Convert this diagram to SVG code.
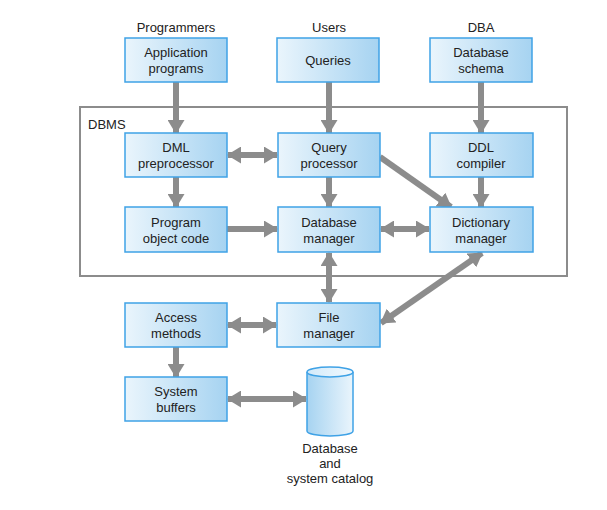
<svg xmlns="http://www.w3.org/2000/svg" width="607" height="510" viewBox="0 0 607 510">
<defs>
<linearGradient id="boxg" x1="0" y1="0" x2="1" y2="0">
<stop offset="0" stop-color="#eaf5fc"/>
<stop offset="1" stop-color="#a6d3f1"/>
</linearGradient>
<linearGradient id="cylg" x1="0" y1="0" x2="1" y2="0">
<stop offset="0" stop-color="#a6d3f1"/>
<stop offset="1" stop-color="#eaf5fc"/>
</linearGradient>
<linearGradient id="topg" x1="0" y1="0" x2="1" y2="0">
<stop offset="0" stop-color="#d2eafa"/>
<stop offset="1" stop-color="#f2f9fe"/>
</linearGradient>
<marker id="ah" markerUnits="userSpaceOnUse" markerWidth="14" markerHeight="17" refX="13" refY="8.5" orient="auto-start-reverse">
<path d="M0,0 L14,8.5 L0,17 Z" fill="#8c8c8c"/>
</marker>
<style>
.box{fill:url(#boxg);stroke:#3fa2e6;stroke-width:1.5}
.t{font-family:"Liberation Sans",Arial,sans-serif;font-size:13px;fill:#222;text-anchor:middle}
.c{stroke:#8c8c8c;stroke-width:6;fill:none}
</style>
</defs>
<rect width="607" height="510" fill="#fff"/>
<rect x="80" y="107" width="487" height="169" fill="none" stroke="#8c8c8c" stroke-width="2"/>
<text x="88" y="129" class="t" style="text-anchor:start">DBMS</text>
<text x="176" y="32" class="t">Programmers</text>
<text x="329" y="32" class="t">Users</text>
<text x="481" y="32" class="t">DBA</text>

<g id="connectors">
<line class="c" x1="176" y1="82" x2="176" y2="133" marker-end="url(#ah)"/>
<line class="c" x1="329" y1="82" x2="329" y2="133" marker-end="url(#ah)"/>
<line class="c" x1="481" y1="82" x2="481" y2="133" marker-end="url(#ah)"/>
<line class="c" x1="228" y1="155" x2="277" y2="155" marker-start="url(#ah)" marker-end="url(#ah)"/>
<line class="c" x1="176" y1="177" x2="176" y2="207" marker-end="url(#ah)"/>
<line class="c" x1="329" y1="177" x2="329" y2="207" marker-end="url(#ah)"/>
<line class="c" x1="481" y1="177" x2="481" y2="207" marker-end="url(#ah)"/>
<line class="c" x1="380" y1="157" x2="451" y2="207" marker-end="url(#ah)"/>
<line class="c" x1="227" y1="229" x2="277" y2="229" marker-end="url(#ah)"/>
<line class="c" x1="381" y1="229" x2="429" y2="229" marker-start="url(#ah)" marker-end="url(#ah)"/>
<line class="c" x1="329" y1="253" x2="329" y2="302" marker-start="url(#ah)" marker-end="url(#ah)"/>
<line class="c" x1="228" y1="325" x2="276" y2="325" marker-start="url(#ah)" marker-end="url(#ah)"/>
<line class="c" x1="381" y1="323" x2="482" y2="253" marker-start="url(#ah)" marker-end="url(#ah)"/>
<line class="c" x1="176" y1="347" x2="176" y2="377" marker-end="url(#ah)"/>
<line class="c" x1="228" y1="399" x2="306" y2="399" marker-start="url(#ah)" marker-end="url(#ah)"/>
</g>

<g id="app">
<rect class="box" x="125" y="38" width="102" height="44"/>
<text class="t" x="176" y="57">Application</text>
<text class="t" x="176" y="73">programs</text>
</g>
<g id="queries">
<rect class="box" x="277" y="38" width="102" height="44"/>
<text class="t" x="328" y="65">Queries</text>
</g>
<g id="schema">
<rect class="box" x="430" y="38" width="102" height="44"/>
<text class="t" x="481" y="57">Database</text>
<text class="t" x="481" y="73">schema</text>
</g>
<g id="dml">
<rect class="box" x="125" y="133" width="102" height="44"/>
<text class="t" x="176" y="152">DML</text>
<text class="t" x="176" y="168">preprocessor</text>
</g>
<g id="qp">
<rect class="box" x="278" y="133" width="102" height="44"/>
<text class="t" x="329" y="152">Query</text>
<text class="t" x="329" y="168">processor</text>
</g>
<g id="ddl">
<rect class="box" x="430" y="133" width="103" height="44"/>
<text class="t" x="481" y="152">DDL</text>
<text class="t" x="481" y="168">compiler</text>
</g>
<g id="poc">
<rect class="box" x="125" y="207" width="102" height="45"/>
<text class="t" x="176" y="227">Program</text>
<text class="t" x="176" y="243">object code</text>
</g>
<g id="dbm">
<rect class="box" x="278" y="207" width="102" height="45"/>
<text class="t" x="329" y="227">Database</text>
<text class="t" x="329" y="243">manager</text>
</g>
<g id="dictm">
<rect class="box" x="430" y="207" width="103" height="45"/>
<text class="t" x="481" y="227">Dictionary</text>
<text class="t" x="481" y="243">manager</text>
</g>
<g id="am">
<rect class="box" x="125" y="303" width="102" height="44"/>
<text class="t" x="176" y="322">Access</text>
<text class="t" x="176" y="338">methods</text>
</g>
<g id="fm">
<rect class="box" x="277" y="303" width="103" height="44"/>
<text class="t" x="329" y="322">File</text>
<text class="t" x="329" y="338">manager</text>
</g>
<g id="sb">
<rect class="box" x="125" y="377" width="102" height="44"/>
<text class="t" x="176" y="396">System</text>
<text class="t" x="176" y="412">buffers</text>
</g>
<g id="db">
<path d="M307,372 L307,431 A23,5 0 0 0 353,431 L353,372" fill="url(#cylg)" stroke="#3fa2e6" stroke-width="1.5"/>
<ellipse cx="330" cy="372" rx="23" ry="5" fill="url(#topg)" stroke="#3fa2e6" stroke-width="1.5"/>
<text class="t" x="330" y="453">Database</text>
<text class="t" x="330" y="468">and</text>
<text class="t" x="330" y="483">system catalog</text>
</g>
</svg>
